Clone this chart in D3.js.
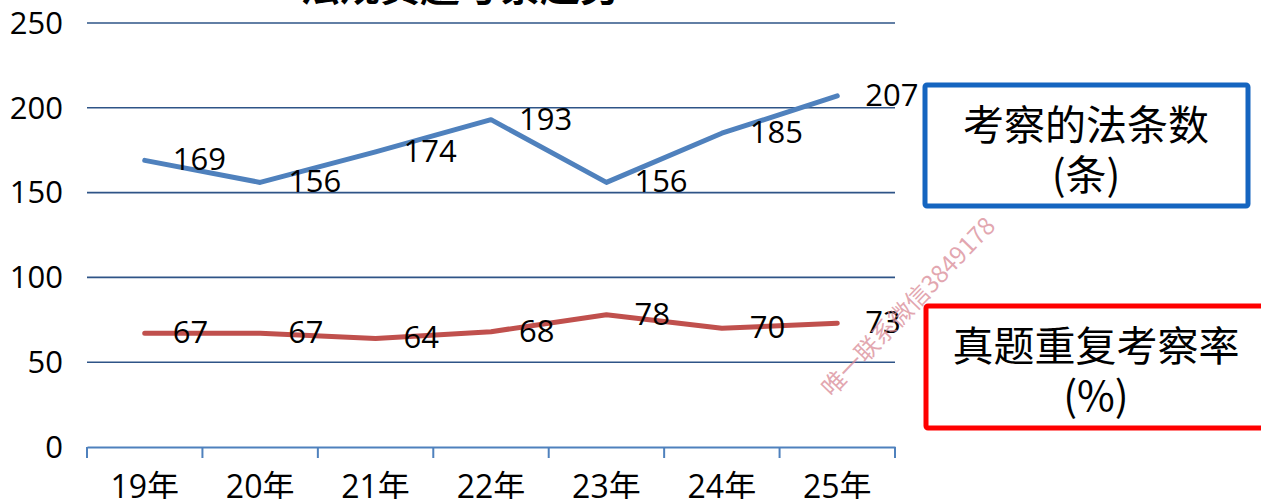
<!DOCTYPE html>
<html><head><meta charset="utf-8">
<script src="https://cdn.jsdelivr.net/npm/d3@7"></script>
<style>
html,body{margin:0;padding:0;background:#fff;}
svg{display:block;font-family:"Open Sans","Noto Sans CJK SC",sans-serif;}
</style></head>
<body>
<svg id="chart" width="1261" height="499"></svg>
<script>
const categories = ["19年","20年","21年","22年","23年","24年","25年"];
const lawCounts = [169,156,174,193,156,185,207];
const repeatRates = [67,67,64,68,78,70,73];
const yTicks = [0,50,100,150,200,250];
const titleText = "法规真题考察趋势";
const legendLaw = ["考察的法条数","(条)"];
const legendRate = ["真题重复考察率","(%)"];
const watermark = "唯一联系微信3849178";

(function(){
const svg = d3.select("#chart");
const pLeft = 87, pRight = 895, pTop = 23, pBottom = 447;

const x = d3.scaleBand().domain(categories).range([pLeft, pRight]).padding(0);
const y = d3.scaleLinear().domain([0, 250]).range([pBottom, pTop]);

// title (mostly cut off)
svg.append("text").attr("x", 460).attr("y", 1)
  .attr("text-anchor", "middle").attr("font-size", 40).attr("font-weight", "bold")
  .attr("font-family", "Noto Sans CJK SC").attr("fill", "#000").text(titleText);

// gridlines
svg.append("g").selectAll("line").data(yTicks.filter(d => d > 0)).join("line")
  .attr("x1", pLeft).attr("x2", pRight)
  .attr("y1", d => y(d)).attr("y2", d => y(d))
  .attr("stroke", "#2E5487").attr("stroke-width", 1.6);

// y labels
svg.append("g").selectAll("text").data(yTicks).join("text")
  .attr("x", 63).attr("y", d => y(d)).attr("dy", "0.35em")
  .attr("text-anchor", "end").attr("font-size", 31).attr("fill", "#000")
  .text(d => d);

// x axis
const xAxis = d3.axisBottom(x).tickSizeOuter(0).tickSize(0).tickFormat("");
const gx = svg.append("g").attr("transform", `translate(0,${pBottom})`).call(xAxis);
gx.select(".domain").attr("stroke", "#4F81BD").attr("stroke-width", 2);
const tickPos = categories.map(c => x(c)).concat([pRight]);
svg.append("g").selectAll("line").data(tickPos).join("line")
  .attr("x1", d => d).attr("x2", d => d).attr("y1", pBottom).attr("y2", pBottom + 11)
  .attr("stroke", "#4F81BD").attr("stroke-width", 2);
svg.append("g").selectAll("text").data(categories).join("text")
  .attr("x", d => x(d) + x.bandwidth() / 2).attr("y", 498)
  .attr("text-anchor", "middle").attr("font-size", 32).attr("fill", "#000")
  .text(d => d);

const cx = d => x(d) + x.bandwidth() / 2;
const line = d3.line().x((d, i) => cx(categories[i])).y(d => y(d));

function series(vals, color) {
  svg.append("path").datum(vals).attr("d", line)
    .attr("fill", "none").attr("stroke", color).attr("stroke-width", 5)
    .attr("stroke-linejoin", "round").attr("stroke-linecap", "round");
  svg.append("g").selectAll("text").data(vals).join("text")
    .attr("x", (d, i) => cx(categories[i]) + 28)
    .attr("y", d => y(d) - 1).attr("dy", "0.35em")
    .attr("font-size", 31).attr("fill", "#000").text(d => d);
}
series(lawCounts, "#4F81BD");
series(repeatRates, "#C0504D");

// legend boxes
function box(x0, y0, w, h, color, lines, ys, cxm) {
  svg.append("rect").attr("x", x0).attr("y", y0).attr("width", w).attr("height", h)
    .attr("fill", "#fff").attr("stroke", color).attr("stroke-width", 5).attr("rx", 2);
  lines.forEach((t, i) => {
    svg.append("text").attr("x", cxm).attr("y", ys[i])
      .attr("text-anchor", "middle").attr("font-size", 41)
      .attr("font-family", "Noto Sans CJK SC").attr("fill", "#000").text(t);
  });
}
box(925, 85, 323, 121, "#1565C0", legendLaw, [140, 190], 1086);
box(926, 306, 345, 122, "#FF0000", legendRate, [361, 411], 1096);

// watermark
svg.append("text").attr("transform", "translate(832,398) rotate(-46)")
  .attr("font-size", 24).attr("fill", "#D98A96").attr("fill-opacity", 0.75)
  .attr("font-family", "Noto Sans CJK SC").text(watermark);
})();
</script>
</body></html>
